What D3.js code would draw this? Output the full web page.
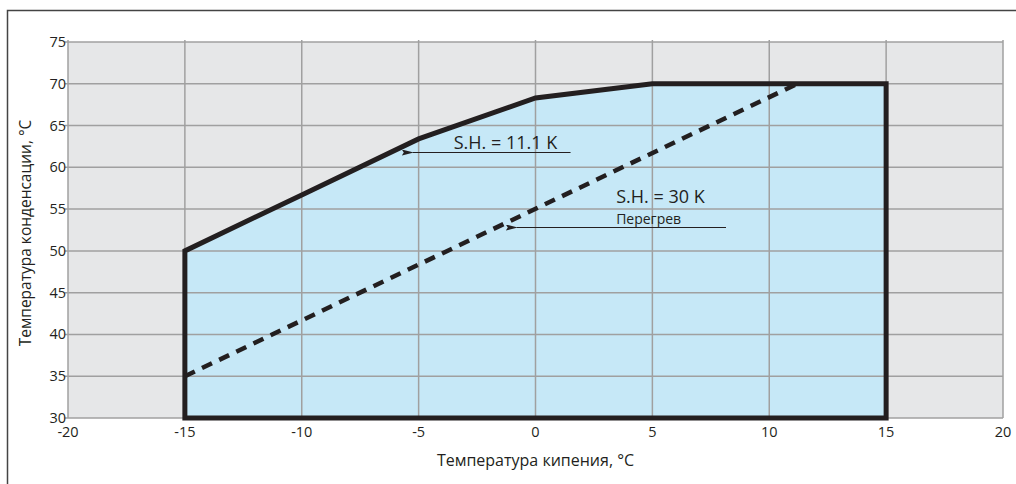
<!DOCTYPE html>
<html>
<head>
<meta charset="utf-8">
<script src="https://cdn.jsdelivr.net/npm/d3@7"></script>
<style>
  body { margin: 0; background: #fff; }
  svg { font-family: "Open Sans", "DejaVu Sans", sans-serif; }
</style>
</head>
<body>
<svg id="chart"></svg>
<script>
// Envelope (evaporating temp -> condensing temp)
var envelopeX = [-15, -15, -10, -5, 0, 5, 15, 15];
var envelopeY = [30, 50, 56.7, 63.4, 68.3, 70, 70, 30];

// S.H. = 30 K limit line
var superheatX = [-15, 11.2];
var superheatY = [35, 70];

var xTicks = [-20, -15, -10, -5, 0, 5, 10, 15, 20];
var yTicks = [30, 35, 40, 45, 50, 55, 60, 65, 70, 75];

var labels = ["S.H. = 11.1 K", "S.H. = 30 K", "Перегрев"];
var labelX = [-3.5, 3.45, 3.45];
var labelY = [62.2, 55.7, 53.2];

var arrowX1 = [1.5, 8.15];
var arrowX2 = [-5.25, -0.8];
var arrowY = [61.8, 52.8];

var width = 1016,
    height = 484,
    margin = {top: 42, right: 13, bottom: 66, left: 68};

var svg = d3.select("#chart")
    .attr("width", width)
    .attr("height", height);

// outer frame
svg.append("rect")
    .attr("x", 7.5).attr("y", 10.5)
    .attr("width", width + 20).attr("height", height + 20)
    .attr("fill", "none")
    .attr("stroke", "#444")
    .attr("stroke-width", 1.5);

var x = d3.scaleLinear().domain([-20, 20]).range([margin.left, width - margin.right]);
var y = d3.scaleLinear().domain([30, 75]).range([height - margin.bottom, margin.top]);

var g = svg.append("g");

// plot background
g.append("rect")
    .attr("x", x(-20)).attr("y", y(75))
    .attr("width", x(20) - x(-20)).attr("height", y(30) - y(75))
    .attr("fill", "#e6e7e8");

// envelope fill
var pts = envelopeX.map(function (d, i) { return [x(d), y(envelopeY[i])]; });
g.append("path")
    .attr("d", "M" + pts.join("L") + "Z")
    .attr("fill", "#c6e8f7");

// grid
g.selectAll(".vgrid").data(xTicks).enter().append("line")
    .attr("class", "vgrid")
    .attr("x1", d => x(d)).attr("x2", d => x(d))
    .attr("y1", y(75) - 2).attr("y2", y(30))
    .attr("stroke", "#a0a0a0").attr("stroke-width", 1.5);

g.selectAll(".hgrid").data(yTicks).enter().append("line")
    .attr("class", "hgrid")
    .attr("x1", x(-20) - 3).attr("x2", x(20))
    .attr("y1", d => y(d)).attr("y2", d => y(d))
    .attr("stroke", "#a0a0a0").attr("stroke-width", 1.5);

// envelope outline
g.append("path")
    .attr("d", "M" + pts.join("L") + "Z")
    .attr("fill", "none")
    .attr("stroke", "#231f20")
    .attr("stroke-width", 5)
    .attr("stroke-linejoin", "miter");

// superheat dashed line
g.append("line")
    .attr("x1", x(superheatX[0])).attr("y1", y(superheatY[0]))
    .attr("x2", x(superheatX[1])).attr("y2", y(superheatY[1]))
    .attr("stroke", "#231f20")
    .attr("stroke-width", 4.5)
    .attr("stroke-dasharray", "11,8");

// tick labels
g.selectAll(".xlab").data(xTicks).enter().append("text")
    .attr("x", d => x(d)).attr("y", y(30) + 19)
    .attr("text-anchor", "middle")
    .attr("font-size", 14.5).attr("fill", "#231f20")
    .text(d => d);

g.selectAll(".ylab").data(yTicks).enter().append("text")
    .attr("x", x(-20) - 2).attr("y", d => y(d) + 5)
    .attr("text-anchor", "end")
    .attr("font-size", 14.5).attr("fill", "#231f20")
    .text(d => d);

// axis titles
svg.append("text")
    .attr("x", x(0)).attr("y", 466)
    .attr("text-anchor", "middle")
    .attr("font-size", 16).attr("fill", "#231f20")
    .text("Температура кипения, °С");

svg.append("text")
    .attr("transform", "translate(31,233) rotate(-90)")
    .attr("text-anchor", "middle")
    .attr("font-size", 15.5).attr("fill", "#231f20")
    .text("Температура конденсации, °С");

// annotations
svg.append("defs").append("marker")
    .attr("id", "arrow")
    .attr("viewBox", "0 0 12 6")
    .attr("refX", 1).attr("refY", 3)
    .attr("markerWidth", 12).attr("markerHeight", 6)
    .attr("markerUnits", "userSpaceOnUse")
    .attr("orient", "auto-start-reverse")
    .append("path")
    .attr("d", "M12,0L0,3L12,6L10,3Z")
    .attr("fill", "#231f20");

arrowY.forEach(function (v, i) {
    g.append("line")
        .attr("x1", x(arrowX1[i])).attr("x2", x(arrowX2[i]))
        .attr("y1", Math.round(y(v)) + 0.5).attr("y2", Math.round(y(v)) + 0.5)
        .attr("stroke", "#231f20").attr("stroke-width", 1)
        .attr("marker-end", "url(#arrow)");
});

labels.forEach(function (t, i) {
    g.append("text")
        .attr("x", x(labelX[i])).attr("y", y(labelY[i]))
        .attr("font-size", i === 2 ? 14 : 18)
        .attr("fill", "#231f20")
        .text(t);
});
</script>
</body>
</html>
